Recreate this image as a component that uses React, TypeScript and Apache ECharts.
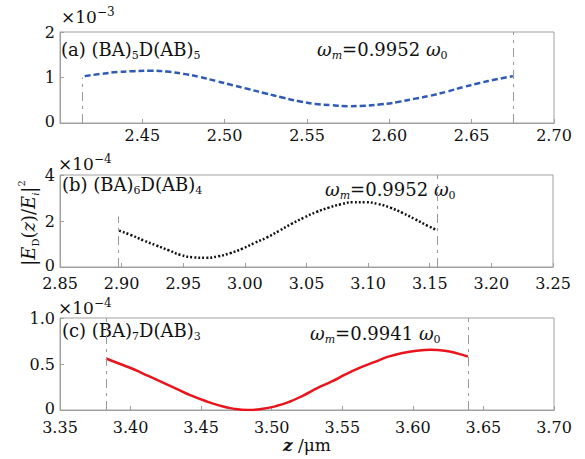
import React, { useEffect, useRef } from "react";
import * as echarts from "echarts";

// Panel (a): (BA)5D(AB)5, values in units of 1e-3
const zA = [2.415, 2.425, 2.435, 2.445, 2.455, 2.465, 2.475, 2.485, 2.495, 2.505, 2.515, 2.525, 2.535, 2.545, 2.555, 2.565, 2.575, 2.585, 2.595, 2.605, 2.615, 2.625, 2.635, 2.645, 2.655, 2.665, 2.675];
const vA = [1.03, 1.08, 1.12, 1.14, 1.15, 1.13, 1.08, 1.01, 0.92, 0.83, 0.74, 0.65, 0.56, 0.48, 0.42, 0.39, 0.37, 0.38, 0.41, 0.46, 0.53, 0.6, 0.69, 0.79, 0.88, 0.96, 1.03];
// Panel (b): (BA)6D(AB)4, values in units of 1e-4
const zB = [2.898, 2.908, 2.918, 2.928, 2.938, 2.948, 2.958, 2.968, 2.978, 2.988, 2.998, 3.008, 3.018, 3.028, 3.038, 3.048, 3.058, 3.068, 3.078, 3.088, 3.098, 3.108, 3.118, 3.128, 3.138, 3.148, 3.156];
const vB = [1.58, 1.38, 1.15, 0.94, 0.73, 0.52, 0.42, 0.4, 0.46, 0.6, 0.8, 1.05, 1.29, 1.58, 1.88, 2.15, 2.39, 2.58, 2.73, 2.82, 2.82, 2.74, 2.58, 2.35, 2.08, 1.8, 1.6];
// Panel (c): (BA)7D(AB)3, values in units of 1e-4
const zC = [3.3826, 3.3926, 3.4026, 3.4126, 3.4226, 3.4326, 3.4426, 3.4526, 3.4626, 3.4726, 3.4826, 3.4926, 3.5026, 3.5126, 3.5226, 3.5326, 3.5426, 3.5526, 3.5626, 3.5726, 3.5826, 3.5926, 3.6026, 3.6126, 3.6226, 3.6326, 3.639];
const vC = [0.56, 0.5, 0.44, 0.37, 0.3, 0.23, 0.16, 0.1, 0.05, 0.015, 0.0, 0.01, 0.04, 0.09, 0.16, 0.24, 0.31, 0.39, 0.46, 0.52, 0.58, 0.62, 0.645, 0.655, 0.645, 0.61, 0.58];

// boundaries (dashed vertical lines)
const boundsA = [2.4133, 2.675];
const boundsB = [2.897, 3.1557];
const boundsC = [3.3826, 3.639];

const xRanges = [
  [2.4, 2.7],
  [2.85, 3.25],
  [3.35, 3.7],
];
const yRanges = [
  [0, 2, 1],
  [0, 4, 2],
  [0, 1, 0.5],
];
const exponents = ["−3", "−4", "−4"];
const panelNames = [
  ["a", "5", "5"],
  ["b", "6", "4"],
  ["c", "7", "3"],
];
const omegas = ["0.9952", "0.9952", "0.9941"];

const FONT = '"DejaVu Serif", serif';
const GRAY = "#a0a0a0";

export default function App() {
  const ref = useRef<HTMLDivElement>(null);
  useEffect(() => {
    if (!ref.current) return;
    const chart = echarts.init(ref.current, undefined, { renderer: "svg" });
    const grids = [
      { left: 60, top: 32, width: 494, height: 91 },
      { left: 60, top: 175, width: 493, height: 92 },
      { left: 60, top: 318, width: 494, height: 92 },
    ];
    const xMargins = [6, 10, 11];
    const xAxis = xRanges.map((r, i) => ({
      type: "value",
      gridIndex: i,
      min: r[0],
      max: r[1],
      interval: 0.05,
      axisLine: { lineStyle: { color: GRAY, width: 1 } },
      axisTick: { inside: true, length: 4, lineStyle: { color: GRAY } },
      splitLine: { show: false },
      axisLabel: {
        color: "#111",
        fontFamily: FONT,
        fontSize: 16,
        lineHeight: 13,
        margin: xMargins[i],
        formatter: (v: number) => (i === 0 && Math.abs(v - 2.4) < 1e-6 ? "" : v.toFixed(2)),
      },
    }));
    const yAxis = yRanges.map((r, i) => ({
      type: "value",
      gridIndex: i,
      min: r[0],
      max: r[1],
      interval: r[2],
      axisLine: { show: true, lineStyle: { color: GRAY, width: 1 } },
      axisTick: { show: true, inside: true, length: 4, lineStyle: { color: GRAY } },
      splitLine: { show: false },
      axisLabel: {
        color: "#111",
        fontFamily: FONT,
        fontSize: 16,
        lineHeight: 13,
        margin: 5,
        formatter: (v: number) => (v === 0 ? "{z|0}" : i === 2 ? v.toFixed(1) : String(v)),
        rich: {
          z: { fontSize: 16, fontFamily: FONT, color: "#111", lineHeight: 13, padding: [0, 0, 4, 0] },
        },
      },
    }));
    const dash = { color: "#999", width: 1, type: [9, 5, 3, 5] };
    const mk = (x0: number, yTop0: number, x1: number, yTop1: number) => ({
      silent: true,
      symbol: "none",
      label: { show: false },
      lineStyle: dash,
      data: [
        [{ coord: [x0, 0] }, { coord: [x0, yTop0] }],
        [{ coord: [x1, 0] }, { coord: [x1, yTop1] }],
      ],
    });
    const series = [
      {
        type: "line",
        xAxisIndex: 0,
        yAxisIndex: 0,
        data: zA.map((z, k) => [z, vA[k]]),
        showSymbol: false,
        smooth: true,
        lineStyle: { color: "#2f5bb7", width: 2.5, type: [6, 3] },
        markLine: mk(boundsA[0], 1.0, boundsA[1], 2),
      },
      {
        type: "line",
        xAxisIndex: 1,
        yAxisIndex: 1,
        data: zB.map((z, k) => [z, vB[k]]),
        showSymbol: false,
        smooth: true,
        lineStyle: { color: "#111", width: 2.5, type: [2, 2] },
        markLine: mk(boundsB[0], 2.2, boundsB[1], 4),
      },
      {
        type: "line",
        xAxisIndex: 2,
        yAxisIndex: 2,
        data: zC.map((z, k) => [z, vC[k]]),
        showSymbol: false,
        smooth: true,
        lineStyle: { color: "#e8161c", width: 2.5 },
        markLine: mk(boundsC[0], 1, boundsC[1], 1),
      },
    ];

    const richBase = {
      n: { fontSize: 18, lineHeight: 24, fontFamily: FONT, fill: "#111" },
      i: { fontSize: 18, lineHeight: 24, fontFamily: FONT, fontStyle: "italic", fill: "#111" },
      s: { fontSize: 11, lineHeight: 11, fontFamily: FONT, fill: "#111", verticalAlign: "bottom" },
      si: { fontSize: 11, lineHeight: 11, fontFamily: FONT, fontStyle: "italic", fill: "#111", verticalAlign: "bottom" },
    };
    const expPos = [
      [61, 17],
      [58, 164],
      [58, 308],
    ];
    const labPos = [
      [61, 49],
      [62, 184],
      [62, 330],
    ];
    const omPos = [
      [317, 49],
      [325, 189],
      [310, 333],
    ];
    const graphic: any[] = [];
    for (let i = 0; i < 3; i++) {
      graphic.push({
        type: "text",
        x: expPos[i][0],
        y: expPos[i][1],
        silent: true,
        style: {
          text: `{m|×10}{p|${exponents[i]}}`,
          align: "left",
          verticalAlign: "middle",
          rich: {
            m: { fontSize: 17, lineHeight: 22, fontFamily: FONT, fill: "#111" },
            p: { fontSize: 12, lineHeight: 12, fontFamily: FONT, fill: "#111", verticalAlign: "top" },
          },
        },
      });
      const [p, a, b] = panelNames[i];
      graphic.push({
        type: "text",
        x: labPos[i][0],
        y: labPos[i][1],
        silent: true,
        style: {
          text: `{n|(${p}) (BA)}{s|${a}}{n|D(AB)}{s|${b}}`,
          align: "left",
          verticalAlign: "middle",
          rich: richBase,
        },
      });
      graphic.push({
        type: "text",
        x: omPos[i][0],
        y: omPos[i][1],
        silent: true,
        style: {
          text: `{i|ω}{si|m}{n|=${omegas[i]} }{i|ω}{s|0}`,
          align: "left",
          verticalAlign: "middle",
          rich: richBase,
        },
      });
    }
    // y-axis title
    graphic.push({
      type: "text",
      x: 28,
      y: 223,
      rotation: Math.PI / 2,
      silent: true,
      style: {
        text: "{n||}{i|E}{s|D}{n|(}{i|z}{n|)/}{i|E}{si|i}{n||}{p|2}",
        align: "center",
        verticalAlign: "middle",
        rich: {
          n: { fontSize: 18, lineHeight: 24, fontFamily: FONT, fill: "#111" },
          i: { fontSize: 18, lineHeight: 24, fontFamily: FONT, fontStyle: "italic", fill: "#111" },
          s: { fontSize: 10, lineHeight: 10, fontFamily: FONT, fill: "#111", verticalAlign: "bottom" },
          si: { fontSize: 10, lineHeight: 10, fontFamily: FONT, fontStyle: "italic", fill: "#111", verticalAlign: "bottom" },
          p: { fontSize: 10, lineHeight: 10, fontFamily: FONT, fill: "#111", verticalAlign: "top" },
        },
      },
    });
    // x-axis title
    graphic.push({
      type: "text",
      x: 307,
      y: 445,
      silent: true,
      style: {
        text: "{i|z}{n| /μm}",
        align: "center",
        verticalAlign: "middle",
        rich: {
          n: { fontSize: 17, lineHeight: 22, fontFamily: FONT, fill: "#111" },
          i: { fontSize: 17, lineHeight: 22, fontFamily: FONT, fontStyle: "italic", fontWeight: "bold", fill: "#111" },
        },
      },
    });

    chart.setOption({
      animation: false,
      backgroundColor: "#fff",
      grid: grids.map((g) => ({ ...g, show: true, borderColor: GRAY, borderWidth: 1, backgroundColor: "transparent" })),
      xAxis,
      yAxis,
      series,
      graphic,
    } as any);
    return () => chart.dispose();
  }, []);
  return (
    <div
      ref={ref}
      style={{ position: "fixed", left: 0, top: 0, width: 585, height: 459, background: "#fff" }}
    />
  );
}
